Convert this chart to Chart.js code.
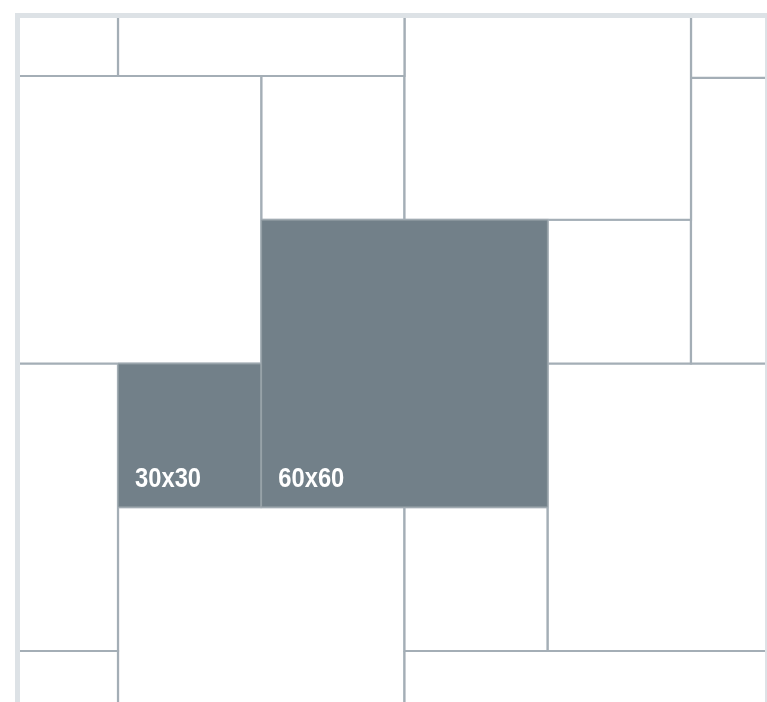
<!DOCTYPE html>
<html>
<head>
<meta charset="utf-8">
<script src="https://cdn.jsdelivr.net/npm/chart.js@4/dist/chart.umd.min.js"></script>
<style>
  html, body { margin: 0; padding: 0; background: #ffffff; }
  #wrap { position: relative; width: 767px; height: 702px; }
  canvas { display: block; }
</style>
</head>
<body>
<div id="wrap"><canvas id="c" width="767" height="702"></canvas></div>
<script>
// Tile layout in centimetres (x to the right, y downward)
const tileX      = [0,   30, 90, 150, 150,  0, 60, 120,   0, 120,  90,   0,  90,  30,  60, 30];
const tileY      = [0,  -30,  0,   0,  30.4, 30, 30,  60,  90,  90, 120, 150, 150, 120,  60, 90];
const tileW      = [30,  60, 60,  30,  30, 60, 30,  30,  30,  60,  30,  30,  90,  60,  60, 30];
const tileH      = [30,  60, 60,  30.4, 59.6, 60, 30,  30,  60,  60,  30,  30,  60,  60,  60, 30];
const tileFilled = [false,false,false,false,false,false,false,false,false,false,false,false,false,false,true,true];
const tileLabels = ['', '', '', '', '', '', '', '', '', '', '', '', '', '', '60x60', '30x30'];

const xRange = [9.48, 165.5];
const yRange = [17.9, 160.64];

const FILL_DARK = '#728089';
const LINE = '#a4aeb6';
const FRAME = '#dde2e6';

const datasets = tileX.map((x, i) => {
  const y = tileY[i], w = tileW[i], h = tileH[i];
  const filled = tileFilled[i];
  return {
    label: tileLabels[i] || ('tile ' + i),
    data: [
      {x: x, y: y}, {x: x + w, y: y}, {x: x + w, y: y + h}, {x: x, y: y + h}, {x: x, y: y}
    ],
    showLine: true,
    fill: 'shape',
    tension: 0,
    pointRadius: 0,
    pointHoverRadius: 0,
    borderWidth: filled ? 1.8 : 2.2,
    borderColor: filled ? 'rgba(167,176,183,0.55)' : LINE,
    backgroundColor: filled ? FILL_DARK : '#ffffff',
    clip: 0,
    order: filled ? 0 : 1
  };
});

const framePlugin = {
  id: 'frame',
  beforeDraw(chart) {
    const ctx = chart.ctx;
    const a = chart.chartArea;
    ctx.save();
    ctx.fillStyle = FRAME;
    ctx.fillRect(a.left - 5, a.top - 5, chart.width - (a.left - 5), chart.height - (a.top - 5));
    ctx.fillStyle = '#ffffff';
    ctx.fillRect(a.left, a.top, a.right - a.left, chart.height - a.top);
    ctx.restore();
  }
};

const labelPlugin = {
  id: 'tileLabels',
  afterDatasetsDraw(chart) {
    const ctx = chart.ctx;
    const xs = chart.scales.x, ys = chart.scales.y;
    ctx.save();
    ctx.fillStyle = '#ffffff';
    ctx.font = 'bold 27px "Liberation Sans", Arial, sans-serif';
    ctx.textAlign = 'left';
    ctx.textBaseline = 'alphabetic';
    tileLabels.forEach((t, i) => {
      if (!t) return;
      const px = xs.getPixelForValue(tileX[i]);
      const py = ys.getPixelForValue(tileY[i] + tileH[i]);
      ctx.save();
      ctx.translate(px + 17, py - 20);
      ctx.scale(0.88, 1);
      ctx.fillText(t, 0, 0);
      ctx.restore();
    });
    ctx.restore();
  }
};

new Chart(document.getElementById('c'), {
  type: 'scatter',
  data: { datasets: datasets },
  options: {
    responsive: false,
    devicePixelRatio: 1,
    animation: false,
    layout: { padding: { left: 20, top: 18, right: 2, bottom: 0 } },
    plugins: { legend: { display: false }, tooltip: { enabled: false } },
    events: [],
    scales: {
      x: { type: 'linear', display: false, min: xRange[0], max: xRange[1] },
      y: { type: 'linear', display: false, reverse: true, min: yRange[0], max: yRange[1] }
    }
  },
  plugins: [framePlugin, labelPlugin]
});
</script>
</body>
</html>
